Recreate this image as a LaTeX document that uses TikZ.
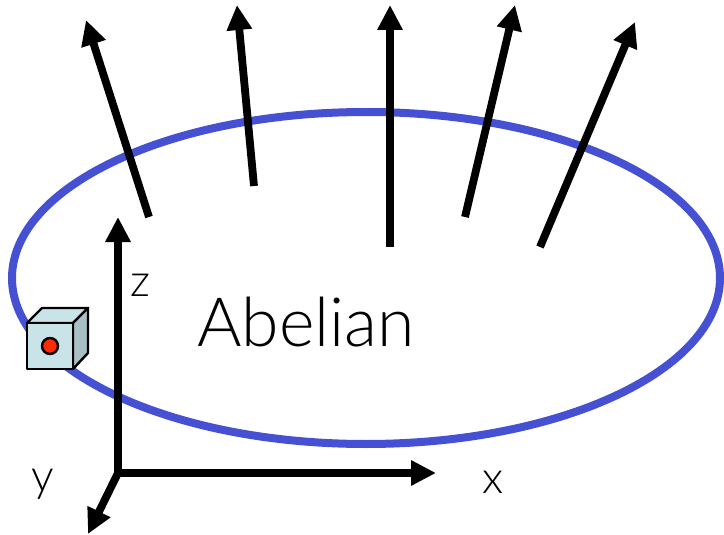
\documentclass[tikz,border=0pt]{standalone}
\usepackage{fontspec}
\setmainfont{Lato Light}
\usetikzlibrary{arrows.meta}
\definecolor{ringblue}{HTML}{4550D2}
\definecolor{cubefront}{HTML}{C8E4E8}
\definecolor{cubeside}{HTML}{A8C0C4}
\definecolor{dotred}{HTML}{FF2A00}
\tikzset{
  fieldarrow/.style={line width=7.8pt,-{Triangle[length=25pt,width=24pt]}},
  ring/.style={draw=ringblue,line width=8pt},
  cubeface/.style={draw=black,line width=2.4pt,line join=round},
  axislabel/.style={font=\fontsize{45}{45}\selectfont,inner sep=0pt},
  titlelabel/.style={font=\fontsize{68}{68}\selectfont,inner sep=0pt}
}
\begin{document}
\begin{tikzpicture}[x=1pt,y=-1pt]
\useasboundingbox (0,0) rectangle (724,535);
\draw[ring] (366,278) ellipse [x radius=354,y radius=166];
% field arrows
\coordinate (a1s) at (149,217); \coordinate (a1e) at (86,20);
\coordinate (a2s) at (254,186); \coordinate (a2e) at (237,5);
\coordinate (a3s) at (390,247); \coordinate (a3e) at (390,5);
\coordinate (a4s) at (465,217); \coordinate (a4e) at (515,5);
\coordinate (a5s) at (540,247); \coordinate (a5e) at (635,22);
\foreach \n in {1,...,5} \draw[fieldarrow] (a\n s) -- (a\n e);
% axes
\coordinate (o) at (118,473);
\coordinate (zt) at (118,217);
\coordinate (xt) at (436,473);
\coordinate (yt) at (88,534);
\draw[fieldarrow] (o) -- (zt);
\draw[fieldarrow] (o) -- (xt);
\draw[fieldarrow] (o) -- (yt);
% labels
\node[axislabel] (zl) at (140,285) {z};
\node[axislabel] (xl) at (493,482) {x};
\node[axislabel] (yl) at (43,484) {y};
\node[titlelabel] (title) at (306,322) {Abelian};
% cube
\draw[cubeface,fill=cubefront] (27,323) -- (42,308) -- (88,308) -- (73,323) -- cycle;
\draw[cubeface,fill=cubeside] (73,323) -- (88,308) -- (88,353) -- (73,369) -- cycle;
\draw[cubeface,fill=cubefront] (27,323) rectangle (73,369);
\draw[draw=black,line width=2.4pt,fill=dotred] (50,346) circle [radius=8];
\end{tikzpicture}
\end{document}
